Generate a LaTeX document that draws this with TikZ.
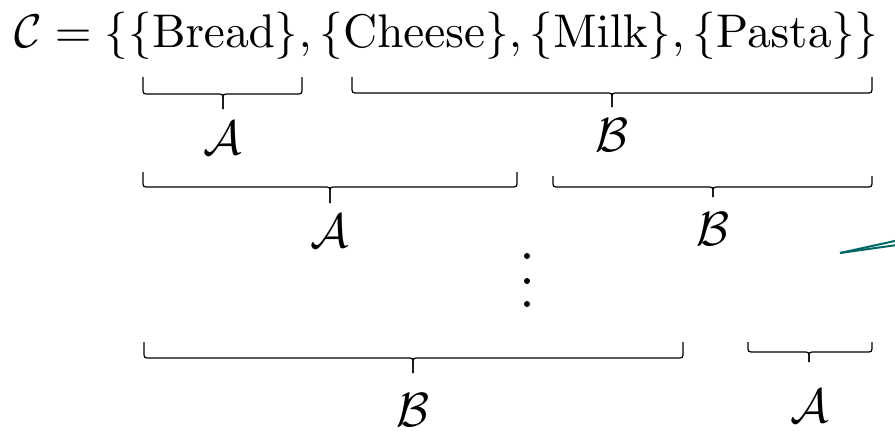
\documentclass[tikz,border=0pt]{standalone}
\usepackage{amsmath}
\definecolor{tealline}{RGB}{0,102,102}
\tikzset{
  bracepath/.style={line width=1.2pt, line join=round},
  lbl/.style={inner sep=0pt},
  pointer/.style={draw=tealline, line width=2pt}
}
\newcommand\biglbl[1]{\scalebox{4.8}{$\mathcal{#1}$}}
% L R C T Y B
\newcommand\mybr[6]{%
  \draw[bracepath] (#1,#4) -- (#1,{#5-3}) .. controls (#1,{#5-1}) and ({#1+1},#5) .. ({#1+3},#5)
    -- ({#3-3},#5) .. controls ({#3-1},#5) and (#3,{#5+1}) .. (#3,{#5+3}) -- (#3,#6);
  \draw[bracepath] (#3,#6) -- (#3,{#5+3}) .. controls (#3,{#5+1}) and ({#3+1},#5) .. ({#3+3},#5)
    -- ({#2-3},#5) .. controls ({#2-1},#5) and (#2,{#5-1}) .. (#2,{#5-3}) -- (#2,#4);
}
\begin{document}
\begin{tikzpicture}[x=1pt,y=-1pt]
\useasboundingbox (0,0) rectangle (895,431);
\node[anchor=base west, inner sep=0pt] (set) at (14,47)
  {\resizebox{864pt}{!}{$\mathcal{C}=\{\{\mathrm{Bread}\},\{\mathrm{Cheese}\},\{\mathrm{Milk}\},\{\mathrm{Pasta}\}\}$}};
% row 1
\mybr{143}{302}{223}{77}{94}{109}
\mybr{352}{872}{612}{77}{93}{107}
\node[lbl] (a1) at (223,138) {\biglbl{A}};
\node[lbl] (b1) at (612,135) {\biglbl{B}};
% row 2
\mybr{143}{517}{330}{172}{187}{203}
\mybr{553}{872}{713}{176}{187}{197}
\node[lbl] (a2) at (330,231) {\biglbl{A}};
\node[lbl] (b2) at (713,229) {\biglbl{B}};
% dots
\fill (527,256) circle (3);
\fill (527,281) circle (3);
\fill (527,304) circle (3);
% row 3
\mybr{144}{683}{413}{342}{358}{373}
\mybr{748}{872}{809}{342}{352}{362}
\node[lbl] (b3) at (413,410) {\biglbl{B}};
\node[lbl] (a3) at (810,406) {\biglbl{A}};
% teal pointer
\coordinate (p0) at (840,253);
\coordinate (p1) at (897,240.5);
\coordinate (p2) at (897,245);
\draw[pointer] (p0) -- (p1);
\draw[pointer] (p0) -- (p2);
\end{tikzpicture}
\end{document}
